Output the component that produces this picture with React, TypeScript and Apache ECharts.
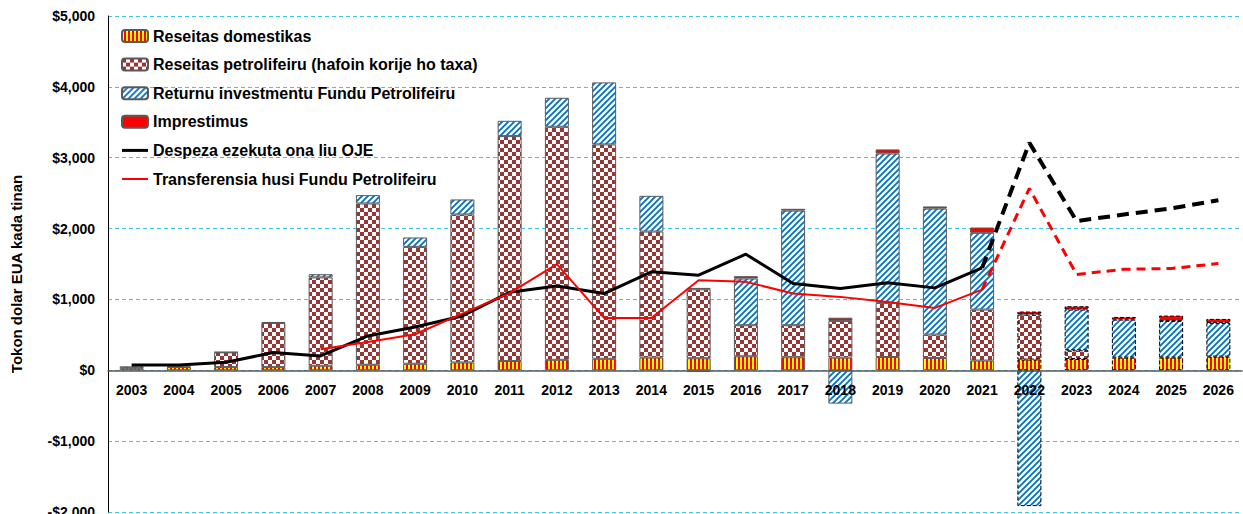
import React, { useEffect, useRef } from "react";
import * as echarts from "echarts";

const years = ["2003","2004","2005","2006","2007","2008","2009","2010","2011","2012","2013","2014","2015","2016","2017","2018","2019","2020","2021","2022","2023","2024","2025","2026"];
const domestic = [30,45,45,45,64,78,92,110,130,148,162,180,170,198,184,179,188,174,137,151,160,179,179,193];
const petroleum = [26,8,208,622,1247,2276,1650,2089,3175,3289,3026,1778,973,438,452,518,763,330,720,636,122,null,null,null];
const returns = [null,null,5,15,45,118,132,212,216,409,875,504,-25,659,1618,-470,2109,1778,1083,-1917,575,536,518,476];
const loans = [null,null,null,null,null,null,null,null,null,null,null,null,20,33,25,45,57,30,75,42,47,38,75,56];
const expenditure = [75,75,113,250,202,485,612,767,1100,1191,1083,1389,1342,1638,1224,1153,1234,1163,1445,3211,2105,2199,2284,2401];
const transfers = [null,null,null,null,297,400,508,800,1090,1497,739,739,1271,1248,1083,1036,965,880,1139,2566,1351,1426,1436,1507];
const yTicks = [-2000,-1000,0,1000,2000,3000,4000,5000];
const names = [
  "Reseitas domestikas",
  "Reseitas petrolifeiru (hafoin korije ho taxa)",
  "Returnu investmentu Fundu Petrolifeiru",
  "Imprestimus",
  "Despeza ezekuta ona liu OJE",
  "Transferensia husi Fundu Petrolifeiru",
];
const lastActual = 18; // index of 2021
const yMin = -2000;
const yMax = 5000;

function makeCanvas(w: number, h: number, draw: (c: CanvasRenderingContext2D) => void) {
  const cv = document.createElement("canvas");
  cv.width = w; cv.height = h;
  const ctx = cv.getContext("2d")!;
  draw(ctx);
  return cv;
}

export default function App() {
  const ref = useRef<HTMLDivElement>(null);
  useEffect(() => {
    document.body.style.margin = "0";
    const stripes = makeCanvas(4, 4, (c) => {
      c.fillStyle = "#FFFF00"; c.fillRect(0, 0, 4, 4);
      c.fillStyle = "#FF0000"; c.fillRect(2, 0, 2, 4);
    });
    const checker = makeCanvas(8, 8, (c) => {
      c.fillStyle = "#FFFFFF"; c.fillRect(0, 0, 8, 8);
      c.fillStyle = "#953735"; c.fillRect(0, 0, 4, 4); c.fillRect(4, 4, 4, 4);
    });
    const hatch = makeCanvas(6, 6, (c) => {
      c.fillStyle = "#FFFFFF"; c.fillRect(0, 0, 6, 6);
      c.strokeStyle = "#0070C0"; c.lineWidth = 1.8;
      c.beginPath();
      c.moveTo(-1, 7); c.lineTo(7, -1);
      c.moveTo(-4, 4); c.lineTo(4, -4);
      c.moveTo(2, 10); c.lineTo(10, 2);
      c.stroke();
    });
    const pat = (img: HTMLCanvasElement) => ({ image: img, repeat: "repeat" } as any);

    const barData = (arr: (number | null)[]) =>
      arr.map((v, i) =>
        i > lastActual
          ? { value: v, itemStyle: { borderType: "dashed", borderColor: "#000", borderWidth: 1 } }
          : v
      );
    const solid = (arr: (number | null)[]) => arr.map((v, i) => (i <= lastActual ? v : null));
    const dashed = (arr: (number | null)[]) => arr.map((v, i) => (i >= lastActual ? v : null));

    const barBase = {
      type: "bar",
      stack: "total",
      barWidth: 24,
      itemStyle: { borderColor: "#595959", borderWidth: 1 },
      emphasis: { disabled: true },
    };

    const gridTop = 16;
    const gridBottom = 2;
    const plotH = 514 - gridTop - gridBottom;
    const zeroOffset = -(plotH * (0 - yMin)) / (yMax - yMin);

    const chart = echarts.init(ref.current!, null, { renderer: "svg" });
    chart.setOption({
      animation: false,
      textStyle: { fontFamily: "Liberation Sans" },
      grid: { left: 108, right: 1, top: gridTop, bottom: gridBottom, outerBoundsMode: "none", containLabel: false },
      legend: {
        data: [
          names[0], names[1], names[2], names[3],
          { name: names[4], icon: "path://M0,0 H26 V3 H0 Z" },
          { name: names[5], icon: "path://M0,0 H26 V2 H0 Z" },
        ],
        orient: "vertical",
        left: 116,
        top: 23,
        itemWidth: 26,
        itemHeight: 12,
        itemGap: 12.6,
        textStyle: { fontSize: 16, fontWeight: "bold", color: "#000", fontFamily: "Liberation Sans" },
        selectedMode: false,
      },
      xAxis: {
        type: "category",
        data: years,
        position: "bottom",
        offset: zeroOffset,
        z: 10,
        axisLine: { onZero: false, lineStyle: { color: "#595959", width: 1.5 } },
        axisTick: { show: false },
        axisLabel: { fontSize: 14, fontWeight: "bold", color: "#000", margin: 13, interval: 0 },
      },
      yAxis: {
        type: "value",
        min: yMin,
        max: yMax,
        interval: 1000,
        name: "Tokon dolar EUA kada tinan",
        nameLocation: "middle",
        nameGap: 84,
        nameTextStyle: { fontSize: 15, fontWeight: "bold", color: "#000", padding: [0, 20, 0, 0] },
        axisLine: { show: true, lineStyle: { color: "#000", width: 1 } },
        axisTick: { show: false },
        axisLabel: {
          fontSize: 14,
          fontWeight: "bold",
          color: "#000",
          margin: 13,
          formatter: (v: number) =>
            yTicks.includes(v) ? (v < 0 ? "-$" : "$") + Math.abs(v).toLocaleString("en-US") : "",
        },
        splitLine: { lineStyle: { color: "#3CC3F0", type: [4, 3], width: 1 } },
      },
      series: [
        { ...barBase, name: names[0], data: barData(domestic), itemStyle: { ...barBase.itemStyle, color: pat(stripes) } },
        { ...barBase, name: names[1], data: barData(petroleum), itemStyle: { ...barBase.itemStyle, color: pat(checker) } },
        { ...barBase, name: names[2], data: barData(returns), itemStyle: { ...barBase.itemStyle, color: pat(hatch) } },
        { ...barBase, name: names[3], data: barData(loans), itemStyle: { ...barBase.itemStyle, color: "#FF0000" } },
        {
          type: "line", name: names[4], data: solid(expenditure), symbol: "none",
          lineStyle: { color: "#000", width: 3 }, itemStyle: { color: "#000" }, z: 5,
        },
        {
          type: "line", name: names[4], data: dashed(expenditure), symbol: "none",
          lineStyle: { color: "#000", width: 4, type: [12, 7] }, itemStyle: { color: "#000" }, z: 5,
        },
        {
          type: "line", name: names[5], data: solid(transfers), symbol: "none",
          lineStyle: { color: "#FF0000", width: 2 }, itemStyle: { color: "#FF0000" }, z: 5,
        },
        {
          type: "line", name: names[5], data: dashed(transfers), symbol: "none",
          lineStyle: { color: "#FF0000", width: 3, type: [9, 6] }, itemStyle: { color: "#FF0000" }, z: 5,
        },
      ],
    });
    return () => chart.dispose();
  }, []);
  return <div ref={ref} style={{ width: 1243, height: 514 }} />;
}
